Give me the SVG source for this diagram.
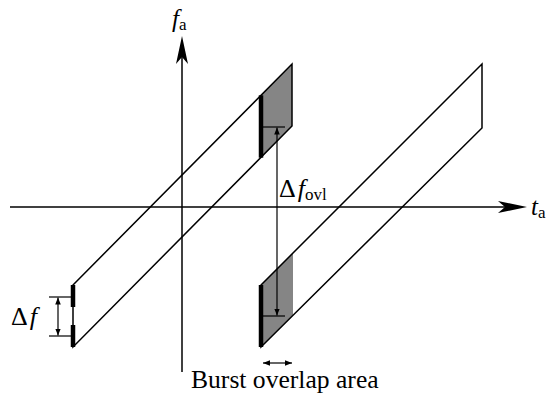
<svg xmlns="http://www.w3.org/2000/svg" width="550" height="396" viewBox="0 0 550 396">
<style>
.ln{fill:none;stroke:#000;stroke-width:1.5;stroke-linejoin:miter}
.thin{fill:none;stroke:#000;stroke-width:1.2}
.bar{stroke:#000;stroke-width:4.5;stroke-linecap:butt}
.grey{fill:#858585;stroke:none}
.t{font-family:"Liberation Serif","Times New Roman",serif;fill:#000}
.it{font-style:italic}
</style>
<defs>
<marker id="ah" viewBox="0 0 10 8" refX="10" refY="4" markerWidth="7" markerHeight="5.6" markerUnits="userSpaceOnUse" orient="auto-start-reverse">
<path d="M0,0 L10,4 L0,8 Z" fill="#000"/>
</marker>
</defs>
<g id="axes">
<line class="ln" x1="10" y1="207" x2="510" y2="207"/>
<path d="M527,207 L498,201 L505,207 L498,213 Z" fill="#000"/>
<line class="ln" x1="182" y1="372" x2="182" y2="50"/>
<path d="M182,36 L176,64 L182,57 L188,64 Z" fill="#000"/>
</g>
<g id="burst-left">
<polygon class="grey" points="261,95.3 292,64 292,126 261,157.7"/>
<polygon class="ln" points="73,285 292,64 292,126 73,347"/>
<line class="bar" x1="261" y1="95.3" x2="261" y2="157.7"/>
<line class="bar" x1="73" y1="285" x2="73" y2="307"/>
<line class="bar" x1="73" y1="325" x2="73" y2="347"/>
</g>
<g id="burst-right">
<polygon class="grey" points="261,285 293,253 293,315 261,347"/>
<polygon class="ln" points="261,285 482,64 482,128 261,347"/>
<line class="bar" x1="261" y1="285" x2="261" y2="347"/>
</g>
<g id="connectors">
<line class="thin" x1="49" y1="297" x2="73" y2="297"/>
<line class="thin" x1="49" y1="336" x2="73" y2="336"/>
<line class="thin" x1="58" y1="297.5" x2="58" y2="335.5" marker-start="url(#ah)" marker-end="url(#ah)"/>
<line class="thin" x1="261" y1="127" x2="285" y2="127"/>
<line class="thin" x1="261" y1="316" x2="285" y2="316"/>
<line class="thin" x1="277" y1="127.5" x2="277" y2="315.5" marker-start="url(#ah)" marker-end="url(#ah)"/>
<line class="thin" x1="263" y1="363" x2="292" y2="363" marker-start="url(#ah)" marker-end="url(#ah)"/>
</g>
<g id="labels">
<text class="t" x="172" y="27" font-size="25"><tspan class="it">f</tspan><tspan font-size="17" dy="3">a</tspan></text>
<text class="t" x="531" y="215" font-size="25"><tspan class="it">t</tspan><tspan font-size="17" dy="3">a</tspan></text>
<text class="t" x="11" y="325" font-size="26">Δ<tspan class="it" dx="2">f</tspan></text>
<text class="t" x="279" y="197" font-size="26">Δ<tspan class="it" dx="2">f</tspan><tspan font-size="17" dy="3">ovl</tspan></text>
<text class="t" x="191" y="388" font-size="25.6">Burst overlap area</text>
</g>
</svg>
